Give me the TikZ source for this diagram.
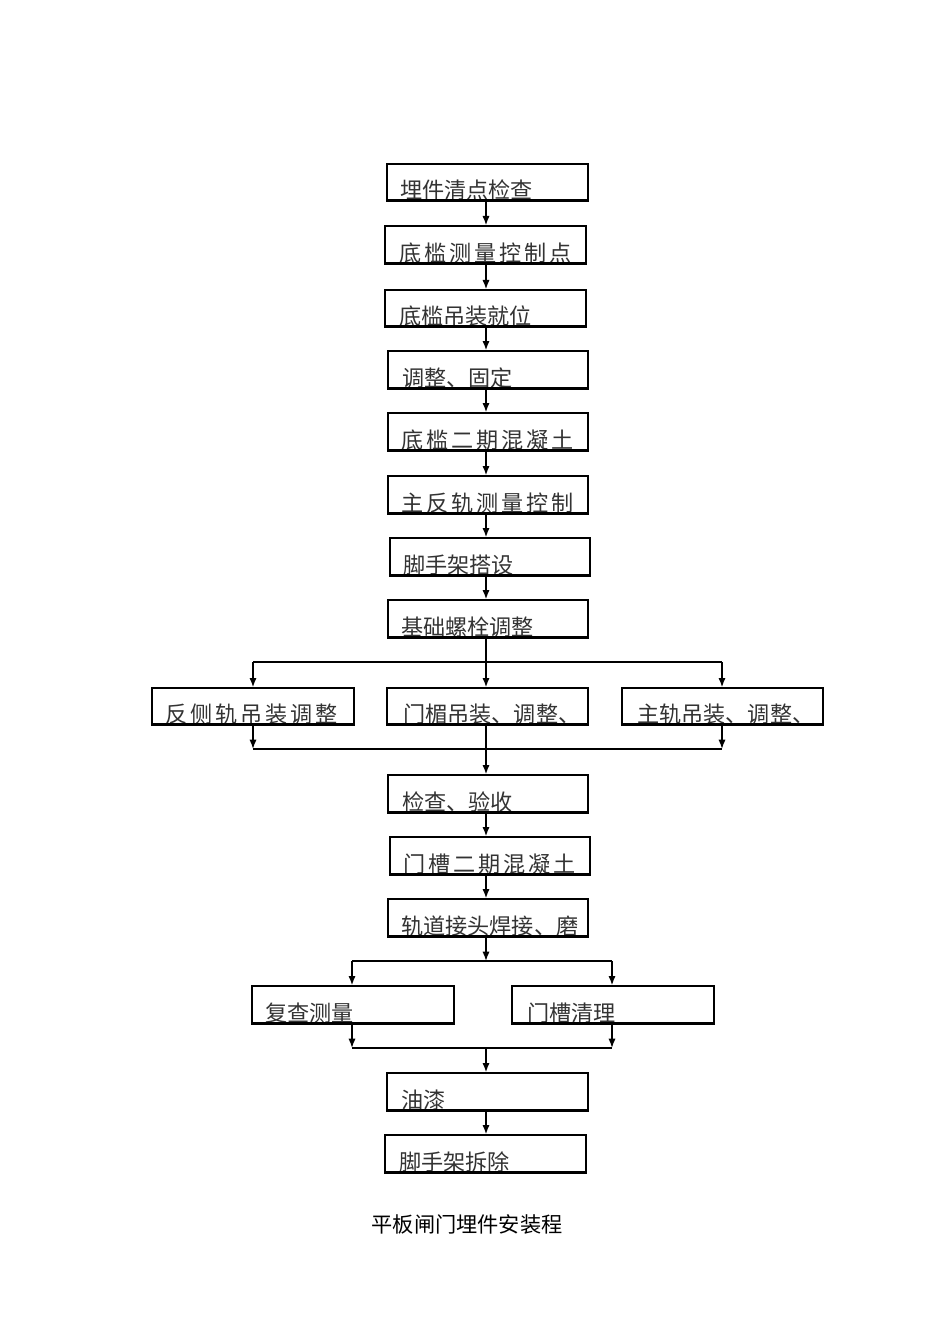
\documentclass[tikz,border=0pt]{standalone}
\usepackage{fontspec}
\usetikzlibrary{arrows.meta,fit}
\newfontfamily\cjk{Noto Sans CJK SC}
\newfontfamily\cjksp[LetterSpace=13]{Noto Sans CJK SC}
\definecolor{txt}{HTML}{333333}
\tikzset{
  boxframe/.style={draw=black, line width=1.0pt, inner sep=0pt, rectangle},
  boxtext/.style={anchor=base west, inner sep=0pt, text=txt, font=\cjk\fontsize{16.6pt}{18pt}\selectfont},
  spacedtext/.style={boxtext, font=\cjksp\fontsize{16.6pt}{18pt}\selectfont},
  arr/.style={draw=black, line width=1.1pt, -{Latex[length=7pt,width=5.4pt]}},
  ln/.style={draw=black, line width=1.0pt},
  captext/.style={inner sep=0pt, text=black, font=\cjk\fontsize{15.9pt}{18pt}\selectfont}
}
% name, x1, y1, x2, y2, text-x, text-style, text
\newcommand\flowbox[8]{%
  \node[#7] (#1-t) at (#6,#5-1.5) {#8};
  \node[boxframe, fit={(#2,#3) (#4,#5)}] (#1) {};
  \draw[line width=1.6pt] (#1.south west) -- (#1.south east);
}
\begin{document}
\begin{tikzpicture}[x=0.75pt,y=-0.75pt]
\useasboundingbox (0,0) rectangle (950,1344);
\flowbox{b1}{387}{164}{588}{200}{400}{boxtext}{埋件清点检查}
\flowbox{b2}{385}{226}{586}{263}{399}{spacedtext}{底槛测量控制点}
\flowbox{b3}{385}{290}{586}{326}{399}{boxtext}{底槛吊装就位}
\flowbox{b4}{388}{351}{588}{388}{402}{boxtext}{调整、固定}
\flowbox{b5}{388}{413}{588}{450}{401}{spacedtext}{底槛二期混凝土}
\flowbox{b6}{388}{476}{588}{513}{401}{spacedtext}{主反轨测量控制}
\flowbox{b7}{390}{538}{590}{575}{403}{boxtext}{脚手架搭设}
\flowbox{b8}{388}{600}{588}{637}{401}{boxtext}{基础螺栓调整}
\flowbox{b9}{152}{688}{354}{724}{165}{spacedtext}{反侧轨吊装调整}
\flowbox{b10}{387}{688}{588}{724}{403}{boxtext}{门楣吊装、调整、}
\flowbox{b11}{622}{688}{823}{724}{637}{boxtext}{主轨吊装、调整、}
\flowbox{b12}{388}{775}{588}{812}{402}{boxtext}{检查、验收}
\flowbox{b13}{390}{837}{590}{874}{403}{spacedtext}{门槽二期混凝土}
\flowbox{b14}{388}{899}{588}{936}{401}{boxtext}{轨道接头焊接、磨}
\flowbox{b15}{252}{986}{454}{1023}{265}{boxtext}{复查测量}
\flowbox{b16}{512}{986}{714}{1023}{527}{boxtext}{门槽清理}
\flowbox{b17}{387}{1073}{588}{1110}{401}{boxtext}{油漆}
\flowbox{b18}{385}{1135}{586}{1172}{399}{boxtext}{脚手架拆除}

\coordinate (ax) at (486,0);
\coordinate (l1) at (253,0);
\coordinate (r1) at (722,0);
\coordinate (l2) at (352,0);
\coordinate (r2) at (612,0);
\coordinate (s1) at (486,662);
\coordinate (m1) at (486,749);
\coordinate (s2) at (486,961);
\coordinate (m2) at (486,1048);

\draw[arr] (b1.south -| ax) -- (b2.north -| ax);
\draw[arr] (b2.south -| ax) -- (b3.north -| ax);
\draw[arr] (b3.south -| ax) -- (b4.north -| ax);
\draw[arr] (b4.south -| ax) -- (b5.north -| ax);
\draw[arr] (b5.south -| ax) -- (b6.north -| ax);
\draw[arr] (b6.south -| ax) -- (b7.north -| ax);
\draw[arr] (b7.south -| ax) -- (b8.north -| ax);

% split 1
\draw[arr] (b8.south -| ax) -- (b10.north -| ax);
\draw[ln] (s1 -| l1) -- (s1 -| r1);
\draw[arr] (s1 -| l1) -- (b9.north -| l1);
\draw[arr] (s1 -| r1) -- (b11.north -| r1);
% merge 1
\draw[arr] (b9.south -| l1) -- (m1 -| l1);
\draw[arr] (b11.south -| r1) -- (m1 -| r1);
\draw[ln] (m1 -| l1) -- (m1 -| r1);
\draw[arr] (b10.south -| ax) -- (b12.north -| ax);

\draw[arr] (b12.south -| ax) -- (b13.north -| ax);
\draw[arr] (b13.south -| ax) -- (b14.north -| ax);

% split 2
\draw[arr] (b14.south -| ax) -- (s2);
\draw[ln] (s2 -| l2) -- (s2 -| r2);
\draw[arr] (s2 -| l2) -- (b15.north -| l2);
\draw[arr] (s2 -| r2) -- (b16.north -| r2);
% merge 2
\draw[arr] (b15.south -| l2) -- (m2 -| l2);
\draw[arr] (b16.south -| r2) -- (m2 -| r2);
\draw[ln] (m2 -| l2) -- (m2 -| r2);
\draw[arr] (m2) -- (b17.north -| ax);
\draw[arr] (b17.south -| ax) -- (b18.north -| ax);

\node[captext] (cap) at (467,1224) {平板闸门埋件安装程};
\end{tikzpicture}
\end{document}
